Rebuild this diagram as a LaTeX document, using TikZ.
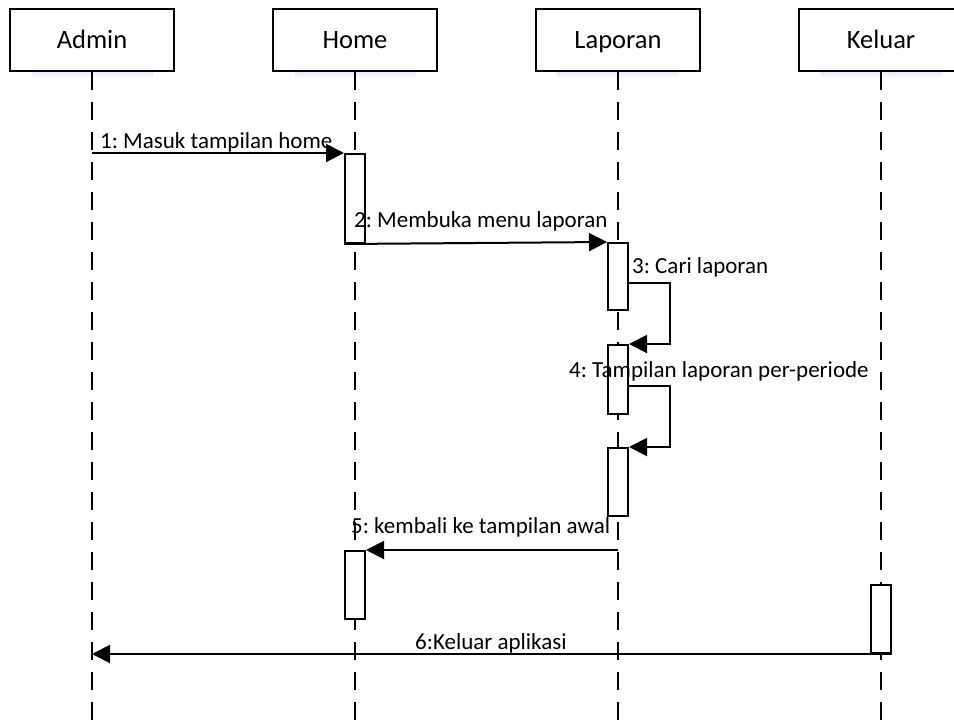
\documentclass[tikz,border=0pt]{standalone}
\usepackage{fontspec}
\setmainfont{Carlito}
\usetikzlibrary{arrows.meta}
\frenchspacing
\begin{document}
\begin{tikzpicture}[x=1pt,y=-1pt,
  head/.style={draw,line width=2pt,fill=white,minimum width=164pt,minimum height=62pt,
    inner sep=0pt,text height=17pt,text depth=0pt,font=\fontsize{26.5}{30}\selectfont},
  life/.style={line width=2pt,dash pattern=on 18pt off 12pt},
  act/.style={draw,line width=2pt,fill=white,minimum width=20pt,inner sep=0pt,anchor=north},
  msg/.style={line width=2pt,-{Triangle[length=18pt,width=18pt]}},
  lbl/.style={anchor=base west,inner sep=0pt,font=\fontsize{23}{26}\selectfont},
  glow/.style={top color=blue!10,bottom color=white,draw=none}]
\useasboundingbox[fill=white] (0,0) rectangle (954,723);

% soft shadows below the object boxes
\shade[glow] (32,71) rectangle (153,78);
\shade[glow] (295,71) rectangle (416,78);
\shade[glow] (557,71) rectangle (679,78);
\shade[glow] (821,71) rectangle (942,78);

% objects
\node[head] (admin)   at (92,40)  {Admin};
\node[head] (home)    at (355,40) {Home};
\node[head] (laporan) at (618,40) {Laporan};
\node[head] (keluar)  at (881,40) {Keluar};

% lifelines
\coordinate (adminEnd)   at (92,723);
\coordinate (homeEnd)    at (355,723);
\coordinate (laporanEnd) at (618,723);
\coordinate (keluarEnd)  at (881,723);
\draw[life] (admin.south)   -- (adminEnd);
\draw[life] (home.south)    -- (homeEnd);
\draw[life] (laporan.south) -- (laporanEnd);
\draw[life] (keluar.south)  -- (keluarEnd);

% activation bars
\node[act,minimum height=89pt] (h1) at (355,153) {};
\node[act,minimum height=67pt] (l1) at (618,242) {};
\node[act,minimum height=69pt] (l2) at (618,344) {};
\node[act,minimum height=68pt] (l3) at (618,447) {};
\node[act,minimum height=68pt] (h2) at (355,550) {};
\node[act,minimum height=68pt] (k1) at (881,584) {};

% messages
\draw[msg] (admin.south |- h1.north west) -- (h1.north west);
\draw[msg] (h1.south west) -- (l1.north west);
\draw[msg] ([yshift=-41pt]l1.north east) -- ++(41,0) |- (l2.north east);
\draw[msg] ([yshift=-42pt]l2.north east) -- ++(41,0) |- (l3.north east);
\draw[msg] (laporan.south |- h2.north east) -- (h2.north east);
\draw[msg] (k1.south east) -- (admin.south |- k1.south east);

% message labels
\node[lbl] (m1) at (100,148) {1: Masuk tampilan home};
\node[lbl] (m2) at (354,227) {2: Membuka menu laporan};
\node[lbl] (m3) at (632,273) {3: Cari laporan};
\node[lbl] (m4) at (569,377) {4: Tampilan laporan per-periode};
\node[lbl] (m5) at (351,533) {5: kembali ke tampilan awal};
\node[lbl] (m6) at (415,649) {6:Keluar aplikasi};
\end{tikzpicture}
\end{document}
